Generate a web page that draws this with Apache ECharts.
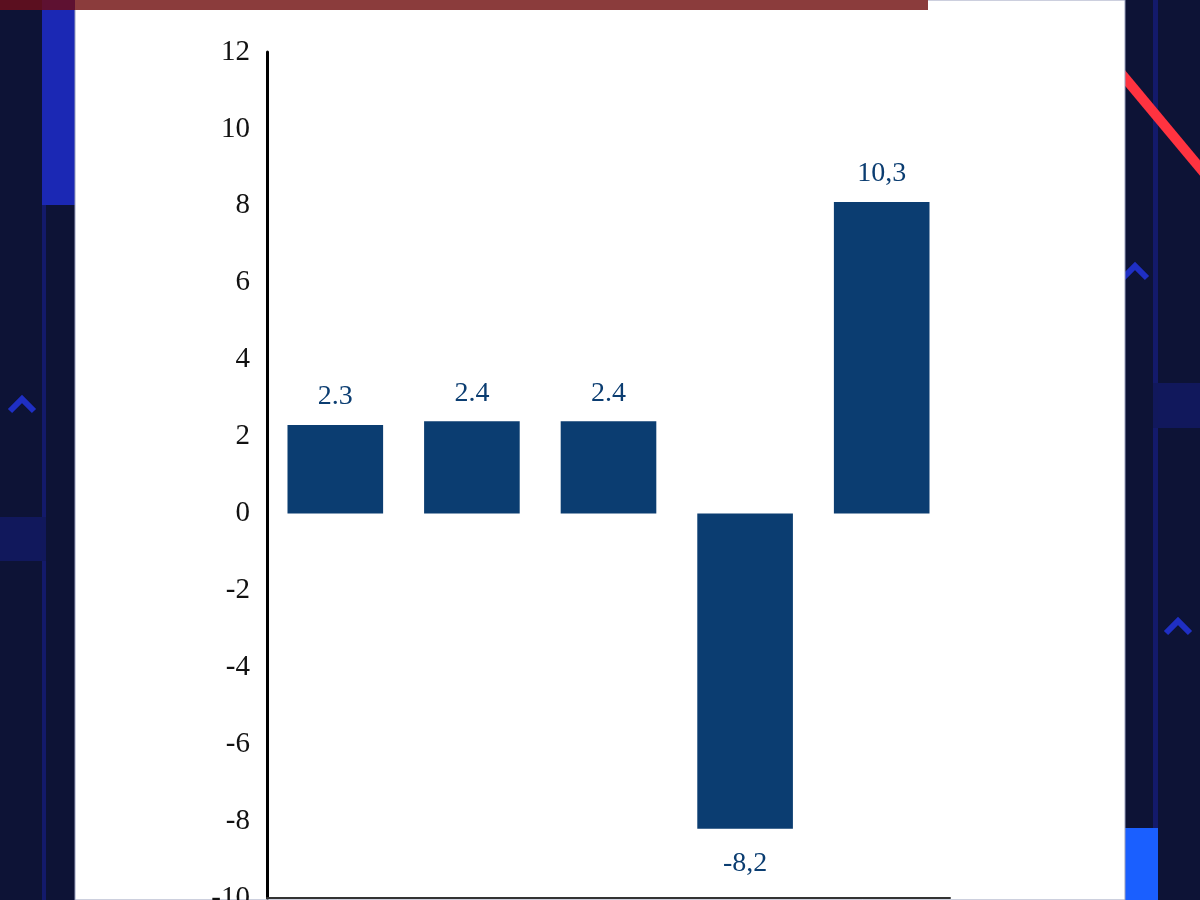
<!DOCTYPE html>
<html>
<head>
    <meta charset="UTF-8">
    <title>bar chart</title>
    <script src="https://cdn.jsdelivr.net/npm/echarts@6/dist/echarts.min.js"></script>
    <style>
        html, body { margin: 0; padding: 0; background: #0d1336; }
        #container { width: 1200px; height: 900px; }
    </style>
</head>
<body>
<div id="container"></div>
<script>
    // data
    var categories = ['A', 'B', 'C', 'D', 'E'];
    var values = [2.3, 2.4, 2.4, -8.2, 8.1];
    var valueLabels = ['2.3', '2.4', '2.4', '-8,2', '10,3'];

    var yMin = -10;
    var yMax = 12;
    var yStep = 2;

    var navy = '#0d1336';
    var barColor = '#0b3d71';
    var serif = '"Liberation Serif", "DejaVu Serif", serif';

    var mycharts = echarts.init(document.getElementById('container'));

    // page decoration around the white panel
    function chevron(cx, cy) {
        return {
            type: 'polyline', z: -10,
            shape: { points: [[cx - 12, cy + 12], [cx, cy], [cx + 12, cy + 12]] },
            style: { stroke: '#1f2fc4', lineWidth: 6, fill: null }
        };
    }
    var decor = [
        { type: 'rect', z: -20, shape: { x: 42, y: 0, width: 4, height: 900 }, style: { fill: '#131a6b' } },
        { type: 'rect', z: -20, shape: { x: 42, y: 10, width: 33, height: 195 }, style: { fill: '#1b28b4' } },
        { type: 'rect', z: -20, shape: { x: 0, y: 517, width: 46, height: 44 }, style: { fill: '#11185c' } },
        chevron(22, 399),
        { type: 'rect', z: -20, shape: { x: 1153, y: 0, width: 5, height: 900 }, style: { fill: '#131a6b' } },
        { type: 'rect', z: -20, shape: { x: 1153, y: 383, width: 47, height: 45 }, style: { fill: '#11185c' } },
        { type: 'rect', z: -20, shape: { x: 1125, y: 828, width: 33, height: 72 }, style: { fill: '#1a5fff' } },
        { type: 'line', z: -15, shape: { x1: 1100, y1: 48, x2: 1225, y2: 198 }, style: { stroke: '#ff3340', lineWidth: 10 } },
        chevron(1135, 266),
        chevron(1178, 621),
        // white panel
        { type: 'rect', z: -8, shape: { x: 75, y: 0, width: 1050, height: 900 }, style: { fill: '#ffffff', stroke: '#9aa0bd', lineWidth: 1 } },
        // top strip
        { type: 'rect', z: -5, shape: { x: 0, y: 0, width: 928, height: 10 }, style: { fill: '#8b3c3c' } },
        { type: 'rect', z: -4, shape: { x: 0, y: 0, width: 42, height: 10 }, style: { fill: '#5b0f1f' } },
        { type: 'rect', z: -4, shape: { x: 42, y: 0, width: 33, height: 10 }, style: { fill: '#5e1131' } }
    ];

    var barData = [];
    for (var i = 0; i < values.length; i++) {
        var neg = values[i] < 0;
        barData.push({
            value: values[i],
            label: { position: neg ? 'bottom' : 'top', distance: neg ? 21 : 14 }
        });
    }

    var option = {
        animation: false,
        backgroundColor: navy,
        graphic: { elements: decor },
        grid: { left: 267, right: 250, top: 52, bottom: 2, containLabel: false, outerBoundsMode: 'none' },
        xAxis: {
            type: 'category',
            data: categories,
            axisLine: { onZero: false, lineStyle: { color: '#333333', width: 2 } },
            axisTick: { show: false },
            axisLabel: { show: false },
            splitLine: { show: false }
        },
        yAxis: {
            type: 'value',
            min: yMin,
            max: yMax,
            interval: yStep,
            axisLine: { show: true, lineStyle: { color: '#000000', width: 3, cap: 'round' } },
            axisTick: { show: false },
            splitLine: { show: false },
            axisLabel: {
                color: '#111111',
                fontFamily: serif,
                fontSize: 29,
                margin: 17
            }
        },
        series: [{
            type: 'bar',
            data: barData,
            barWidth: '70%',
            itemStyle: { color: barColor },
            label: {
                show: true,
                color: barColor,
                fontFamily: serif,
                fontSize: 28,
                formatter: function (p) { return valueLabels[p.dataIndex]; }
            }
        }]
    };
    mycharts.setOption(option);
</script>
</body>
</html>
